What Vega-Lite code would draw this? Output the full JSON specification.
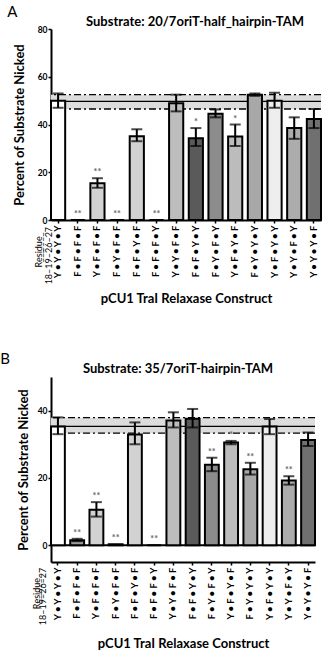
{
  "$schema": "https://vega.github.io/schema/vega-lite/v6.json",
  "padding": {"left": 0, "top": 5, "right": 0, "bottom": 0},
  "spacing": 46,
  "config": {
    "view": {"stroke": null},
    "font": "Lato",
    "axis": {"domainColor": "black", "domainWidth": 2, "tickColor": "black", "tickWidth": 1.5, "labelColor": "black", "labelFont": "Lato", "labelFontWeight": "bold", "titleFont": "Lato", "titleFontWeight": "bold", "titleColor": "black", "grid": false},
    "title": {"font": "Lato", "color": "black"}
  },
  "datasets": {
    "a": [
      {"c": "Y • Y • Y • Y", "v": 50, "lo": 47, "hi": 53},
      {"c": "F • F • F • F", "v": 0, "star": "**"},
      {"c": "Y • F • F • F", "v": 15.4, "lo": 13.5, "hi": 17.5, "star": "**"},
      {"c": "F • Y • F • F", "v": 0, "star": "**"},
      {"c": "F • F • Y • F", "v": 35.1, "lo": 33, "hi": 38},
      {"c": "F • F • F • Y", "v": 0, "star": "**"},
      {"c": "Y • Y • F • F", "v": 48.9, "lo": 45.5, "hi": 52.5},
      {"c": "F • F • Y • Y", "v": 34.2, "lo": 31, "hi": 38.5, "star": "*"},
      {"c": "F • Y • F • Y", "v": 44.5, "lo": 43, "hi": 46.3},
      {"c": "Y • F • Y • F", "v": 35, "lo": 31, "hi": 40, "star": "*"},
      {"c": "F • Y • Y • Y", "v": 52.5, "lo": 52, "hi": 53},
      {"c": "Y • F • Y • Y", "v": 50, "lo": 47, "hi": 53.3},
      {"c": "Y • Y • F • Y", "v": 38.5, "lo": 34, "hi": 43},
      {"c": "Y • Y • Y • F", "v": 42.3, "lo": 38.5, "hi": 46.5}
    ],
    "b": [
      {"c": "Y • Y • Y • Y", "v": 35.3, "lo": 33, "hi": 38},
      {"c": "F • F • F • F", "v": 1.5, "lo": 1.2, "hi": 1.9, "star": "**"},
      {"c": "Y • F • F • F", "v": 10.5, "lo": 8.5, "hi": 12.8, "star": "**"},
      {"c": "F • Y • F • F", "v": 0.3, "star": "**"},
      {"c": "F • F • Y • F", "v": 32.9, "lo": 30, "hi": 36.5},
      {"c": "F • F • F • Y", "v": 0, "star": "**"},
      {"c": "Y • Y • F • F", "v": 37.1, "lo": 35, "hi": 39.5},
      {"c": "F • F • Y • Y", "v": 37.6, "lo": 35, "hi": 40.5},
      {"c": "F • Y • F • Y", "v": 23.9, "lo": 22, "hi": 26, "star": "**"},
      {"c": "Y • F • Y • F", "v": 30.5, "lo": 30, "hi": 31, "star": "*"},
      {"c": "F • Y • Y • Y", "v": 22.6, "lo": 21, "hi": 24.5, "star": "**"},
      {"c": "Y • F • Y • Y", "v": 35.3, "lo": 33, "hi": 37.5},
      {"c": "Y • Y • F • Y", "v": 19.2, "lo": 18, "hi": 20.5, "star": "**"},
      {"c": "Y • Y • Y • F", "v": 31.3, "lo": 29.5, "hi": 33.5}
    ],
    "refA": [{"lo": 46.5, "mid": 49.7, "hi": 52.5}],
    "refB": [{"lo": 33.3, "mid": 35.3, "hi": 37.9}]
  },
  "vconcat": [
    {
      "title": {"text": "A", "anchor": "start", "fontSize": 15, "fontWeight": "normal", "dx": -6, "offset": -4},
      "vconcat": [
        {
          "width": 270,
          "height": 191,
          "title": {"text": "Substrate: 20/7oriT-half_hairpin-TAM", "fontSize": 13, "fontWeight": "bold", "dx": 9, "offset": -4},
          "layer": [
            {"data": {"name": "refA"}, "mark": {"type": "rect", "color": "#dcdcdc"}, "encoding": {"y": {"field": "lo", "type": "quantitative", "scale": {"domain": [0, 80]}}, "y2": {"field": "hi"}}},
            {"data": {"name": "refA"}, "mark": {"type": "rule", "color": "black", "strokeWidth": 1.3, "strokeDash": [7, 3, 2, 3]}, "encoding": {"y": {"field": "lo", "type": "quantitative"}}},
            {"data": {"name": "refA"}, "mark": {"type": "rule", "color": "black", "strokeWidth": 1.3, "strokeDash": [7, 3, 2, 3]}, "encoding": {"y": {"field": "hi", "type": "quantitative"}}},
            {"data": {"name": "refA"}, "mark": {"type": "rule", "color": "black", "strokeWidth": 1.3}, "encoding": {"y": {"field": "mid", "type": "quantitative"}}},
            {
              "data": {"name": "a"},
              "mark": {"type": "bar", "stroke": "black", "strokeWidth": 2},
              "encoding": {
                "x": {"field": "c", "type": "nominal", "sort": null, "scale": {"paddingInner": 0.28, "paddingOuter": 0},
                  "axis": {"title": "pCU1 TraI Relaxase Construct", "titleFontSize": 13, "labelAngle": 270, "labelAlign": "right", "labelBaseline": "middle", "labelFontSize": 9.5, "tickSize": 3, "labelPadding": 2, "titlePadding": 12}},
                "y": {"field": "v", "type": "quantitative", "scale": {"domain": [0, 80]},
                  "axis": {"title": "Percent of Substrate Nicked", "titleFontSize": 13, "values": [0, 10, 20, 30, 40, 50, 60, 70, 80], "labelFontSize": 8.5, "tickSize": 3, "labelPadding": 1, "titlePadding": 11}},
                "fill": {"field": "c", "type": "nominal", "legend": null,
                  "scale": {"domain": ["Y • Y • Y • Y", "F • F • F • F", "Y • F • F • F", "F • Y • F • F", "F • F • Y • F", "F • F • F • Y", "Y • Y • F • F", "F • F • Y • Y", "F • Y • F • Y", "Y • F • Y • F", "F • Y • Y • Y", "Y • F • Y • Y", "Y • Y • F • Y", "Y • Y • Y • F"],
                    "range": ["#ffffff", "#9a9a9a", "#d2d2d2", "#333333", "#d2d2d2", "#ffffff", "#bdbdbd", "#5a5a5a", "#8c8c8c", "#bcbcbc", "#a8a8a8", "#eeeeee", "#acacac", "#707070"]}}
              }
            },
            {"data": {"name": "a"}, "transform": [{"filter": "datum.hi != null"}], "mark": {"type": "rule", "color": "black", "strokeWidth": 2}, "encoding": {"x": {"field": "c", "type": "nominal", "sort": null}, "y": {"field": "lo", "type": "quantitative"}, "y2": {"field": "hi"}}},
            {"data": {"name": "a"}, "transform": [{"filter": "datum.hi != null"}], "mark": {"type": "tick", "color": "black", "size": 11, "thickness": 2}, "encoding": {"x": {"field": "c", "type": "nominal", "sort": null}, "y": {"field": "lo", "type": "quantitative"}}},
            {"data": {"name": "a"}, "transform": [{"filter": "datum.hi != null"}], "mark": {"type": "tick", "color": "black", "size": 11, "thickness": 2}, "encoding": {"x": {"field": "c", "type": "nominal", "sort": null}, "y": {"field": "hi", "type": "quantitative"}}},
            {"data": {"name": "a"}, "transform": [{"filter": "datum.star && datum.hi != null"}], "mark": {"type": "text", "color": "#666666", "fontSize": 9, "fontWeight": "bold", "baseline": "alphabetic", "dy": -3}, "encoding": {"x": {"field": "c", "type": "nominal", "sort": null}, "y": {"field": "hi", "type": "quantitative"}, "text": {"field": "star"}}},
            {"data": {"name": "a"}, "transform": [{"filter": "datum.star && datum.hi == null"}], "mark": {"type": "text", "color": "#666666", "fontSize": 9, "fontWeight": "bold", "baseline": "alphabetic", "dy": -3}, "encoding": {"x": {"field": "c", "type": "nominal", "sort": null}, "y": {"field": "v", "type": "quantitative"}, "text": {"field": "star"}}},
            {"data": {"values": [{"t": "R̲e̲s̲i̲d̲u̲e̲"}]}, "mark": {"type": "text", "angle": 270, "align": "center", "baseline": "middle", "fontSize": 9, "color": "black", "dy": -19}, "encoding": {"x": {"datum": "Y • Y • Y • Y"}, "y": {"datum": -13.4}, "text": {"field": "t"}}},
            {"data": {"values": [{"t": "18–19–26–27"}]}, "mark": {"type": "text", "angle": 270, "align": "right", "baseline": "middle", "fontSize": 9, "color": "black", "dy": -9}, "encoding": {"x": {"datum": "Y • Y • Y • Y"}, "y": {"datum": -2.9}, "text": {"field": "t"}}}
          ]
        }
      ]
    },
    {
      "title": {"text": "B", "anchor": "start", "fontSize": 15, "fontWeight": "normal", "dx": -17, "offset": -4},
      "vconcat": [
        {
          "width": 264,
          "height": 185,
          "title": {"text": "Substrate: 35/7oriT-hairpin-TAM", "fontSize": 13, "fontWeight": "bold", "dx": -5, "offset": 1},
          "layer": [
            {"data": {"name": "refB"}, "mark": {"type": "rect", "color": "#dcdcdc"}, "encoding": {"y": {"field": "lo", "type": "quantitative", "scale": {"domain": [-5, 50]}}, "y2": {"field": "hi"}}},
            {"data": {"name": "refB"}, "mark": {"type": "rule", "color": "black", "strokeWidth": 1.3, "strokeDash": [7, 3, 2, 3]}, "encoding": {"y": {"field": "lo", "type": "quantitative"}}},
            {"data": {"name": "refB"}, "mark": {"type": "rule", "color": "black", "strokeWidth": 1.3, "strokeDash": [7, 3, 2, 3]}, "encoding": {"y": {"field": "hi", "type": "quantitative"}}},
            {"data": {"name": "refB"}, "mark": {"type": "rule", "color": "black", "strokeWidth": 1.3}, "encoding": {"y": {"field": "mid", "type": "quantitative"}}},
            {"data": {"values": [{"z": 0}]}, "mark": {"type": "rule", "color": "black", "strokeWidth": 2}, "encoding": {"y": {"field": "z", "type": "quantitative"}}},
            {
              "data": {"name": "b"},
              "mark": {"type": "bar", "stroke": "black", "strokeWidth": 2},
              "encoding": {
                "x": {"field": "c", "type": "nominal", "sort": null, "scale": {"paddingInner": 0.28, "paddingOuter": 0},
                  "axis": {"title": "pCU1 TraI Relaxase Construct", "titleFontSize": 13, "labelAngle": 270, "labelAlign": "right", "labelBaseline": "middle", "labelFontSize": 9.5, "tickSize": 3, "labelPadding": 2, "titlePadding": 15}},
                "y": {"field": "v", "type": "quantitative", "scale": {"domain": [-5, 50]},
                  "axis": {"title": "Percent of Substrate Nicked", "titleFontSize": 13, "values": [0, 10, 20, 30, 40, 50], "labelFontSize": 8.5, "tickSize": 3, "labelPadding": 1, "titlePadding": 7}},
                "fill": {"field": "c", "type": "nominal", "legend": null}
              }
            },
            {"data": {"name": "b"}, "transform": [{"filter": "datum.hi != null"}], "mark": {"type": "rule", "color": "black", "strokeWidth": 2}, "encoding": {"x": {"field": "c", "type": "nominal", "sort": null}, "y": {"field": "lo", "type": "quantitative"}, "y2": {"field": "hi"}}},
            {"data": {"name": "b"}, "transform": [{"filter": "datum.hi != null"}], "mark": {"type": "tick", "color": "black", "size": 11, "thickness": 2}, "encoding": {"x": {"field": "c", "type": "nominal", "sort": null}, "y": {"field": "lo", "type": "quantitative"}}},
            {"data": {"name": "b"}, "transform": [{"filter": "datum.hi != null"}], "mark": {"type": "tick", "color": "black", "size": 11, "thickness": 2}, "encoding": {"x": {"field": "c", "type": "nominal", "sort": null}, "y": {"field": "hi", "type": "quantitative"}}},
            {"data": {"name": "b"}, "transform": [{"filter": "datum.star && datum.hi != null"}], "mark": {"type": "text", "color": "#666666", "fontSize": 9, "fontWeight": "bold", "baseline": "alphabetic", "dy": -3}, "encoding": {"x": {"field": "c", "type": "nominal", "sort": null}, "y": {"field": "hi", "type": "quantitative"}, "text": {"field": "star"}}},
            {"data": {"name": "b"}, "transform": [{"filter": "datum.star && datum.hi == null"}], "mark": {"type": "text", "color": "#666666", "fontSize": 9, "fontWeight": "bold", "baseline": "alphabetic", "dy": -3}, "encoding": {"x": {"field": "c", "type": "nominal", "sort": null}, "y": {"field": "v", "type": "quantitative"}, "text": {"field": "star"}}},
            {"data": {"values": [{"t": "R̲e̲s̲i̲d̲u̲e̲"}]}, "mark": {"type": "text", "angle": 270, "align": "center", "baseline": "middle", "fontSize": 9, "color": "black", "dy": -21}, "encoding": {"x": {"datum": "Y • Y • Y • Y"}, "y": {"datum": -14.4}, "text": {"field": "t"}}},
            {"data": {"values": [{"t": "18–19–26–27"}]}, "mark": {"type": "text", "angle": 270, "align": "right", "baseline": "middle", "fontSize": 9, "color": "black", "dy": -15}, "encoding": {"x": {"datum": "Y • Y • Y • Y"}, "y": {"datum": -6.7}, "text": {"field": "t"}}}
          ]
        }
      ]
    }
  ]
}
